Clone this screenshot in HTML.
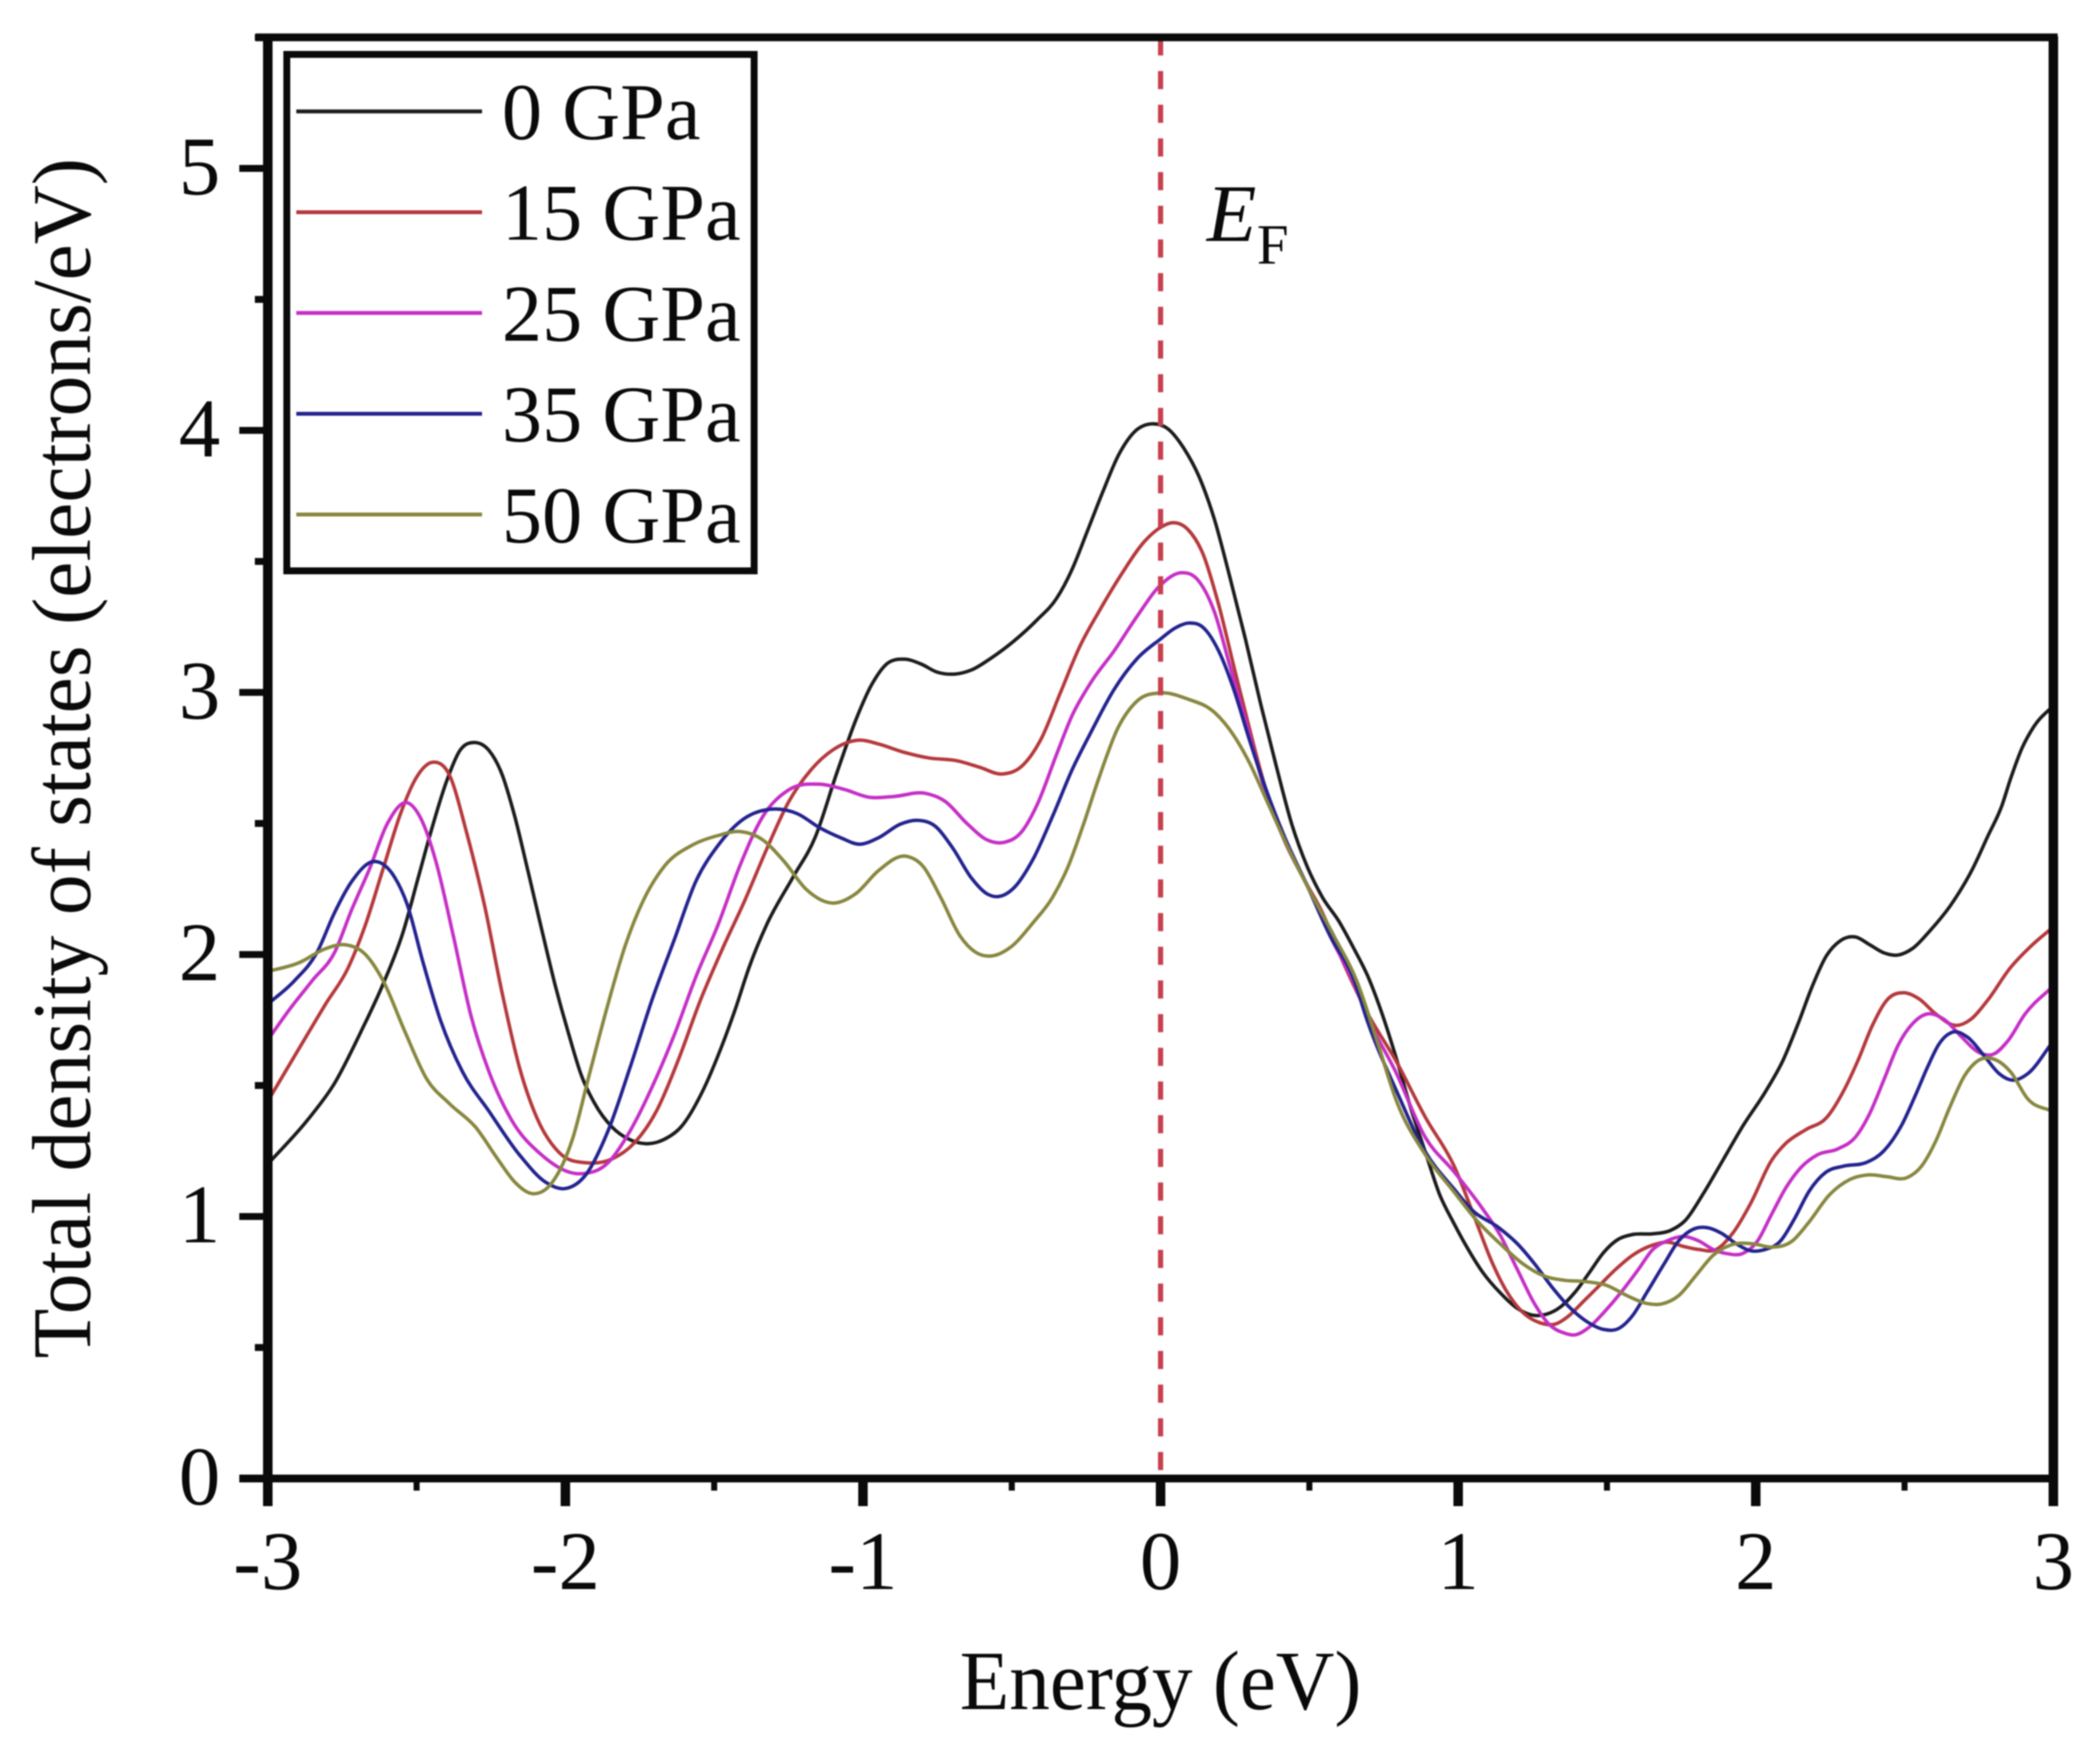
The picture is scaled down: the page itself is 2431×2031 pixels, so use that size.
<!DOCTYPE html>
<html>
<head>
<meta charset="utf-8">
<title>Total density of states vs energy</title>
<style>
html,body{margin:0;padding:0;background:#fff;}
svg{display:block;filter:blur(0.7px);}
text{font-family:"Liberation Serif","Times New Roman",serif;fill:#0a0a0a;}
</style>
</head>
<body>
<svg id="chart" xmlns="http://www.w3.org/2000/svg" width="2431" height="2031" viewBox="0 0 2431 2031">
  <rect x="0" y="0" width="2431" height="2031" fill="#ffffff"/>
  <g id="series-layer"></g>
  <g id="axis-layer"></g>
  <text transform="translate(104,1573) rotate(-90)" font-size="96" textLength="1390" lengthAdjust="spacingAndGlyphs">Total density of states (electrons/eV)</text>
  <text x="1111" y="1979" font-size="97" textLength="465" lengthAdjust="spacingAndGlyphs">Energy (eV)</text>
  <text x="1397" y="279" font-size="94" font-style="italic">E</text>
  <text x="1455" y="305" font-size="66">F</text>
  <g>
    <rect x="332" y="63" width="541" height="598" fill="#ffffff" stroke="#0a0a0a" stroke-width="8"/>
    <g id="legend-layer"></g>
  </g>
</svg>
<script>
var energy0 = [-3,-2.865,-2.776,-2.687,-2.613,-2.546,-2.494,-2.45,-2.398,-2.354,-2.305,-2.257,-2.213,-2.169,-2.124,-2.08,-2.035,-1.991,-1.946,-1.902,-1.843,-1.783,-1.731,-1.665,-1.606,-1.546,-1.487,-1.428,-1.383,-1.324,-1.235,-1.161,-1.089,-1.024,-0.972,-0.921,-0.862,-0.804,-0.752,-0.694,-0.635,-0.571,-0.493,-0.415,-0.35,-0.298,-0.246,-0.195,-0.143,-0.091,-0.026,0.026,0.078,0.13,0.181,0.233,0.285,0.337,0.389,0.441,0.493,0.544,0.599,0.647,0.696,0.744,0.793,0.841,0.889,0.938,0.986,1.034,1.083,1.141,1.199,1.247,1.296,1.344,1.392,1.441,1.489,1.538,1.586,1.654,1.712,1.763,1.821,1.889,1.957,2.034,2.092,2.14,2.189,2.237,2.285,2.334,2.382,2.431,2.479,2.527,2.585,2.653,2.731,2.779,2.827,2.856,2.895,2.934,3];
var dos0 = [1.2,1.37,1.508,1.705,1.886,2.083,2.295,2.476,2.665,2.779,2.809,2.779,2.688,2.522,2.31,2.098,1.886,1.705,1.538,1.432,1.341,1.293,1.278,1.296,1.349,1.462,1.614,1.795,1.95,2.113,2.295,2.446,2.689,2.895,3.027,3.108,3.127,3.108,3.078,3.07,3.086,3.13,3.196,3.277,3.358,3.468,3.616,3.763,3.902,3.991,4.025,4.005,3.932,3.822,3.66,3.439,3.204,2.953,2.718,2.497,2.335,2.218,2.127,2.028,1.918,1.775,1.6,1.413,1.248,1.083,0.973,0.874,0.786,0.709,0.649,0.624,0.627,0.655,0.71,0.786,0.863,0.913,0.931,0.934,0.946,0.985,1.082,1.214,1.346,1.479,1.597,1.729,1.876,1.994,2.053,2.067,2.038,2.006,1.998,2.023,2.09,2.185,2.332,2.45,2.568,2.67,2.788,2.869,2.95];

var energy15 = [-3,-2.909,-2.806,-2.731,-2.672,-2.613,-2.554,-2.502,-2.443,-2.391,-2.331,-2.272,-2.213,-2.154,-2.094,-2.02,-1.931,-1.843,-1.768,-1.694,-1.62,-1.546,-1.472,-1.398,-1.324,-1.25,-1.176,-1.102,-1.011,-0.947,-0.869,-0.778,-0.687,-0.609,-0.532,-0.467,-0.402,-0.337,-0.272,-0.208,-0.13,-0.052,0,0.041,0.091,0.143,0.195,0.246,0.298,0.35,0.415,0.48,0.544,0.609,0.696,0.793,0.889,0.986,1.063,1.112,1.16,1.218,1.276,1.325,1.373,1.421,1.47,1.528,1.586,1.654,1.702,1.76,1.808,1.867,1.925,1.983,2.053,2.102,2.169,2.237,2.295,2.344,2.392,2.44,2.498,2.547,2.605,2.673,2.721,2.779,2.856,2.924,3];
var dos15 = [1.44,1.614,1.81,1.947,2.113,2.325,2.537,2.673,2.734,2.688,2.461,2.189,1.856,1.568,1.372,1.243,1.205,1.22,1.281,1.402,1.599,1.826,2.022,2.204,2.401,2.582,2.703,2.78,2.818,2.803,2.774,2.75,2.74,2.715,2.689,2.718,2.821,2.998,3.174,3.307,3.454,3.579,3.63,3.648,3.623,3.527,3.336,3.101,2.865,2.644,2.438,2.291,2.159,1.982,1.775,1.59,1.38,1.193,0.973,0.83,0.72,0.633,0.594,0.589,0.622,0.676,0.731,0.797,0.852,0.891,0.902,0.885,0.874,0.874,0.94,1.05,1.214,1.28,1.332,1.376,1.479,1.597,1.729,1.825,1.854,1.832,1.773,1.729,1.751,1.825,1.95,2.031,2.105];

var energy25 = [-3,-2.924,-2.85,-2.776,-2.717,-2.657,-2.598,-2.531,-2.487,-2.435,-2.376,-2.317,-2.257,-2.183,-2.08,-1.946,-1.857,-1.783,-1.709,-1.635,-1.561,-1.487,-1.413,-1.339,-1.25,-1.146,-1.063,-0.979,-0.895,-0.791,-0.726,-0.648,-0.584,-0.525,-0.467,-0.415,-0.35,-0.298,-0.233,-0.156,-0.078,0,0.071,0.123,0.181,0.233,0.285,0.35,0.415,0.493,0.57,0.648,0.696,0.793,0.889,0.986,1.083,1.141,1.199,1.257,1.305,1.354,1.392,1.441,1.489,1.547,1.605,1.654,1.702,1.76,1.808,1.857,1.905,1.954,2.005,2.053,2.102,2.15,2.208,2.276,2.334,2.382,2.431,2.479,2.527,2.576,2.634,2.692,2.75,2.798,2.847,2.905,3];
var dos25 = [1.674,1.795,1.901,2.007,2.174,2.33,2.5,2.579,2.522,2.355,2.068,1.765,1.553,1.372,1.235,1.163,1.205,1.326,1.493,1.69,1.916,2.113,2.34,2.522,2.628,2.65,2.63,2.6,2.603,2.615,2.586,2.497,2.438,2.428,2.468,2.571,2.762,2.91,3.04,3.159,3.292,3.41,3.457,3.432,3.307,3.101,2.895,2.63,2.438,2.262,2.07,1.894,1.76,1.545,1.303,1.171,1.028,0.929,0.797,0.666,0.589,0.556,0.548,0.578,0.633,0.71,0.797,0.874,0.907,0.924,0.907,0.874,0.858,0.858,0.905,1.008,1.111,1.185,1.236,1.258,1.302,1.391,1.523,1.655,1.736,1.773,1.751,1.685,1.626,1.619,1.67,1.773,1.88];

var energy35 = [-3,-2.909,-2.835,-2.776,-2.717,-2.643,-2.583,-2.531,-2.48,-2.42,-2.346,-2.257,-2.154,-2.065,-1.998,-1.931,-1.857,-1.783,-1.709,-1.635,-1.561,-1.487,-1.413,-1.294,-1.22,-1.146,-1.076,-1.011,-0.947,-0.875,-0.817,-0.758,-0.7,-0.635,-0.584,-0.545,-0.493,-0.428,-0.363,-0.298,-0.233,-0.156,-0.078,0,0.052,0.097,0.143,0.195,0.246,0.298,0.35,0.415,0.493,0.57,0.648,0.696,0.793,0.889,0.986,1.054,1.131,1.199,1.257,1.315,1.373,1.431,1.489,1.538,1.586,1.634,1.692,1.741,1.789,1.838,1.886,1.934,1.983,2.031,2.082,2.131,2.179,2.237,2.295,2.373,2.431,2.489,2.537,2.576,2.614,2.663,2.711,2.769,2.818,2.866,2.914,3];
var dos35 = [1.81,1.901,2.007,2.159,2.28,2.355,2.31,2.189,1.977,1.75,1.553,1.402,1.235,1.13,1.107,1.16,1.326,1.568,1.826,2.053,2.28,2.416,2.507,2.555,2.537,2.484,2.446,2.421,2.446,2.497,2.512,2.49,2.409,2.291,2.232,2.221,2.254,2.365,2.527,2.703,2.85,3.012,3.13,3.204,3.248,3.265,3.248,3.159,3.012,2.821,2.644,2.453,2.262,2.07,1.909,1.742,1.479,1.248,1.105,1.017,0.962,0.896,0.819,0.731,0.655,0.6,0.569,0.572,0.622,0.71,0.819,0.907,0.951,0.957,0.935,0.896,0.869,0.874,0.905,0.993,1.096,1.17,1.192,1.207,1.251,1.346,1.464,1.567,1.655,1.704,1.685,1.611,1.545,1.52,1.545,1.67];

var energy50 = [-3,-2.894,-2.806,-2.739,-2.672,-2.613,-2.539,-2.465,-2.391,-2.302,-2.228,-2.169,-2.109,-2.05,-1.976,-1.917,-1.857,-1.798,-1.739,-1.665,-1.576,-1.487,-1.413,-1.339,-1.265,-1.191,-1.102,-1.024,-0.947,-0.856,-0.797,-0.739,-0.674,-0.622,-0.57,-0.506,-0.428,-0.363,-0.311,-0.259,-0.207,-0.143,-0.078,0,0.091,0.181,0.246,0.298,0.363,0.428,0.506,0.583,0.661,0.73,0.793,0.889,0.986,1.063,1.141,1.218,1.296,1.354,1.431,1.499,1.567,1.634,1.683,1.741,1.799,1.857,1.915,1.992,2.053,2.121,2.179,2.247,2.314,2.382,2.44,2.508,2.557,2.605,2.653,2.702,2.75,2.808,2.856,2.914,3];
var dos50 = [1.935,1.969,2.022,2.037,2,1.901,1.705,1.523,1.432,1.341,1.22,1.13,1.087,1.122,1.296,1.553,1.81,2.037,2.204,2.34,2.416,2.454,2.469,2.439,2.355,2.249,2.196,2.232,2.321,2.375,2.335,2.218,2.071,2.009,1.994,2.026,2.122,2.218,2.335,2.497,2.674,2.865,2.968,2.998,2.975,2.924,2.836,2.733,2.571,2.409,2.232,2.07,1.894,1.66,1.44,1.237,1.094,0.984,0.896,0.819,0.77,0.757,0.751,0.737,0.698,0.668,0.666,0.698,0.775,0.852,0.891,0.896,0.883,0.905,0.979,1.082,1.14,1.159,1.152,1.148,1.192,1.288,1.42,1.538,1.597,1.597,1.552,1.449,1.4];

var seriesNames = ["0 GPa","15 GPa","25 GPa","35 GPa","50 GPa"];
var seriesSlugs = ["0-gpa","15-gpa","25-gpa","35-gpa","50-gpa"];
var seriesEnergies = [energy0,energy15,energy25,energy35,energy50];
var seriesDos = [dos0,dos15,dos25,dos35,dos50];
var seriesColors = ["#1c1c1c","#b5383c","#c52fc5","#23238f","#87873f"];
var xTickLabels = ["-3","-2","-1","0","1","2","3"];
var xTickValues = [-3,-2,-1,0,1,2,3];
var xMinorValues = [-2.5,-1.5,-0.5,0.5,1.5,2.5];
var yTickLabels = ["0","1","2","3","4","5"];
var yTickValues = [0,1,2,3,4,5];
var yMinorValues = [0.5,1.5,2.5,3.5,4.5,5.5];

var SVGNS = "http://www.w3.org/2000/svg";
function X(e){ return 310 + (e + 3) * 344.5; }
function Y(v){ return 1712 - v * 303.4; }
function make(tag, parent, attrs){
  var el = document.createElementNS(SVGNS, tag);
  for (var k in attrs) el.setAttribute(k, attrs[k]);
  parent.appendChild(el);
  return el;
}
/* Hermite spline weighted by the uneven knot spacing, written as cubic Beziers. */
function smoothPath(es, vs){
  var n = Math.min(es.length, vs.length), px = [], py = [], m = [], i;
  for (i = 0; i < n; i++){ px.push(X(es[i])); py.push(Y(vs[i])); }
  for (i = 0; i < n; i++){
    if (i === 0){ m.push((py[1] - py[0]) / (px[1] - px[0])); continue; }
    if (i === n - 1){ m.push((py[i] - py[i - 1]) / (px[i] - px[i - 1])); continue; }
    var h0 = px[i] - px[i - 1], h1 = px[i + 1] - px[i];
    var s0 = (py[i] - py[i - 1]) / h0, s1 = (py[i + 1] - py[i]) / h1;
    m.push((s0 * h1 + s1 * h0) / (h0 + h1));
  }
  var d = "M" + px[0].toFixed(1) + " " + py[0].toFixed(1);
  for (i = 0; i < n - 1; i++){
    var h = px[i + 1] - px[i];
    d += "C" + (px[i] + h / 3).toFixed(1) + " " + (py[i] + m[i] * h / 3).toFixed(1) + " " +
         (px[i + 1] - h / 3).toFixed(1) + " " + (py[i + 1] - m[i + 1] * h / 3).toFixed(1) + " " +
         px[i + 1].toFixed(1) + " " + py[i + 1].toFixed(1);
  }
  return d;
}

var seriesLayer = document.getElementById("series-layer");
var axisLayer = document.getElementById("axis-layer");
var legendLayer = document.getElementById("legend-layer");

seriesNames.forEach(function(name, i){
  var path = make("path", seriesLayer, {d: smoothPath(seriesEnergies[i], seriesDos[i]), fill: "none", stroke: seriesColors[i], "stroke-width": "4", "stroke-linejoin": "round"});
  
  
});

var fermi = make("line", seriesLayer, {x1: X(0), x2: X(0), y1: Y(5.5), y2: Y(0), stroke: "#c8404f", "stroke-width": "6", "stroke-dasharray": "21 18"});



var top_ = make("line", axisLayer, {x1: 296, x2: X(3) + 5, y1: Y(5.5), y2: Y(5.5), stroke: "#0a0a0a", "stroke-width": "9"});



var leftAxis = make("line", axisLayer, {x1: X(-3), x2: X(-3), y1: 42, y2: 1744, stroke: "#0a0a0a", "stroke-width": "11"});



var rightAxis = make("line", axisLayer, {x1: X(3), x2: X(3), y1: 42, y2: 1744, stroke: "#0a0a0a", "stroke-width": "11"});



var bottomAxis = make("line", axisLayer, {x1: 277, x2: X(3), y1: Y(0), y2: Y(0), stroke: "#0a0a0a", "stroke-width": "9"});



xTickValues.forEach(function(v, i){
  var t = make("line", axisLayer, {x1: X(v), x2: X(v), y1: Y(0), y2: 1744, stroke: "#0a0a0a", "stroke-width": "11"});
  
  
  var lab = make("text", axisLayer, {x: X(v), y: 1840, "font-size": "96", "text-anchor": "middle"});
  lab.textContent = xTickLabels[i];
  
  
});
xMinorValues.forEach(function(v){
  var t = make("line", axisLayer, {x1: X(v), x2: X(v), y1: Y(0), y2: 1726, stroke: "#0a0a0a", "stroke-width": "7"});
  
  
});
yTickValues.forEach(function(v, i){
  var t = make("line", axisLayer, {x1: 277, x2: X(-3), y1: Y(v), y2: Y(v), stroke: "#0a0a0a", "stroke-width": "8"});
  
  
  var lab = make("text", axisLayer, {x: 255, y: Y(v) + 30, "font-size": "96", "text-anchor": "end"});
  lab.textContent = yTickLabels[i];
  
  
});
yMinorValues.forEach(function(v){
  var t = make("line", axisLayer, {x1: 295, x2: X(-3), y1: Y(v), y2: Y(v), stroke: "#0a0a0a", "stroke-width": "8"});
  
  
});

seriesNames.forEach(function(name, i){
  var rowY = 129 + i * 116.7;
  var key = make("line", legendLayer, {x1: 343, x2: 558, y1: rowY, y2: rowY, stroke: seriesColors[i], "stroke-width": "4.5"});
  
  
  var lab = make("text", legendLayer, {x: 581, y: rowY + 32, "font-size": "93"});
  lab.textContent = name;
  
  
});
</script>
</body>
</html>
